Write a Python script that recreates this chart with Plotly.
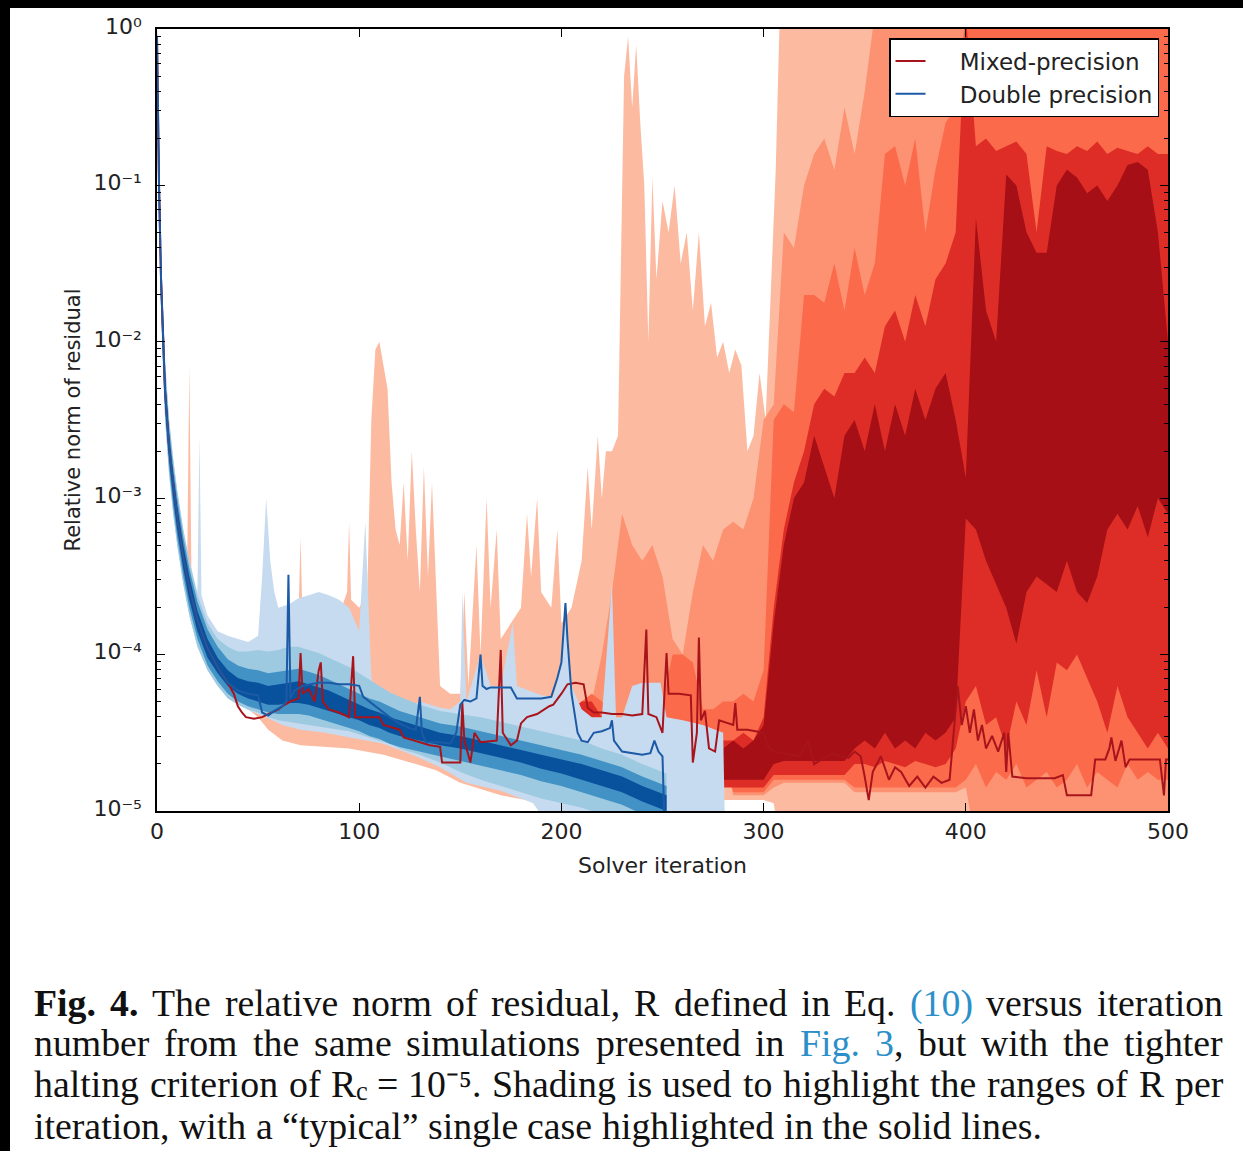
import plotly.graph_objects as go

# ---------------- data: log10 of relative residual norm ----------------
# Double precision shading (nested ranges), common iteration grid
BX = [0, 1, 2, 3, 4, 6, 8, 10, 13, 16, 20, 25, 30, 35, 40, 45, 50, 55, 60, 65, 70, 75, 80, 85, 90, 95,
      100, 105, 110, 115, 120, 130, 140, 150, 160, 170, 180, 190, 200, 210, 220, 230, 240, 252]
B4_HI = [-0.02, -0.9, -1.5, -1.9, -2.25, -2.6, -2.85, -3.05, -3.3, -3.5,
         -3.72, -3.9, -4.02, -4.1, -4.15, -4.17, -4.18, -4.2, -4.19, -4.18,
         -4.17, -4.19, -4.21, -4.23, -4.26, -4.29, -4.32, -4.35, -4.37, -4.4,
         -4.42, -4.46, -4.5, -4.52, -4.55, -4.58, -4.61, -4.64, -4.67, -4.7,
         -4.74, -4.78, -4.84, -4.9]
B4_LO = [-0.3, -1.1, -1.7, -2.1, -2.4, -2.75, -3.0, -3.2, -3.45, -3.65,
         -3.85, -4.02, -4.12, -4.2, -4.25, -4.28, -4.3, -4.32, -4.32, -4.31,
         -4.31, -4.32, -4.34, -4.36, -4.38, -4.4, -4.42, -4.45, -4.47, -4.5,
         -4.52, -4.55, -4.58, -4.6, -4.63, -4.66, -4.69, -4.73, -4.76, -4.8,
         -4.84, -4.88, -4.94, -5.0]
B3_HI = [0.0, -0.85, -1.45, -1.85, -2.2, -2.55, -2.8, -3.0, -3.25, -3.45,
         -3.66, -3.84, -3.95, -4.03, -4.07, -4.09, -4.1, -4.12, -4.11, -4.1,
         -4.09, -4.11, -4.13, -4.16, -4.19, -4.22, -4.25, -4.28, -4.3, -4.33,
         -4.36, -4.4, -4.44, -4.46, -4.49, -4.52, -4.55, -4.58, -4.61, -4.64,
         -4.68, -4.72, -4.78, -4.84]
B3_LO = [-0.35, -1.15, -1.75, -2.15, -2.45, -2.8, -3.05, -3.25, -3.5, -3.7,
         -3.9, -4.07, -4.17, -4.25, -4.3, -4.33, -4.35, -4.37, -4.38, -4.38,
         -4.38, -4.39, -4.41, -4.43, -4.45, -4.47, -4.49, -4.52, -4.54, -4.57,
         -4.59, -4.62, -4.65, -4.68, -4.71, -4.74, -4.77, -4.81, -4.84, -4.88,
         -4.92, -4.96, -5.02, -5.1]
B2_HI = [0.0, -0.8, -1.4, -1.8, -2.15, -2.5, -2.75, -2.95, -3.2, -3.4,
         -3.62, -3.8, -3.9, -3.95, -3.98, -3.98, -3.97, -3.98, -3.97, -3.95,
         -3.95, -3.97, -3.99, -4.02, -4.05, -4.08, -4.12, -4.16, -4.2, -4.24,
         -4.27, -4.32, -4.36, -4.38, -4.4, -4.43, -4.46, -4.49, -4.52, -4.55,
         -4.6, -4.64, -4.7, -4.76]
B2_LO = [-0.4, -1.2, -1.8, -2.2, -2.5, -2.85, -3.1, -3.3, -3.55, -3.75,
         -3.95, -4.1, -4.2, -4.28, -4.32, -4.35, -4.37, -4.4, -4.42, -4.43,
         -4.44, -4.45, -4.46, -4.47, -4.48, -4.49, -4.51, -4.53, -4.55, -4.57,
         -4.6, -4.64, -4.69, -4.75, -4.8, -4.84, -4.88, -4.92, -4.95, -4.98,
         -5.02, -5.05, -5.1, -5.1]
B1_HI_X = [0, 1, 2, 3, 4, 6, 8, 10, 13, 16, 20, 21, 22, 25, 30, 35, 40, 45, 50, 52,
           54, 56, 58, 60, 65, 70, 75, 80, 85, 90, 95, 100, 103, 106, 110, 115, 120, 130, 140, 145,
           150, 151, 153, 160, 165, 170, 176, 178, 190, 196, 200, 202, 205, 210, 215, 220, 225, 227, 230, 235,
           240, 249, 252, 260, 270, 280, 281]
B1_HI = [0.0, -0.8, -1.4, -1.8, -2.1, -2.5, -2.75, -2.95, -3.2, -3.4, -3.6, -2.6, -3.62, -3.75, -3.85, -3.88, -3.9, -3.92, -3.88, -3.5,
         -3.0, -3.4, -3.6, -3.7, -3.68, -3.64, -3.62, -3.6, -3.62, -3.65, -3.7, -3.85, -3.15, -4.15, -4.28, -4.33, -4.36, -4.3, -4.34, -4.35,
         -4.3, -3.6, -4.3, -4.0, -4.2, -4.2, -3.8, -4.2, -4.26, -4.27, -4.05, -3.65, -4.2, -4.35, -4.4, -4.4, -3.55, -4.4, -4.4, -4.2,
         -4.18, -4.18, -4.4, -4.42, -4.45, -4.5, -5.2]
B1_LO_X = [0, 1, 2, 3, 4, 6, 8, 10, 13, 16, 20, 25, 30, 35, 40, 46, 54, 62, 71, 83,
           95, 112, 128, 140, 153, 170, 186, 194, 281]
B1_LO = [-0.35, -1.2, -1.8, -2.2, -2.5, -2.85, -3.1, -3.3, -3.55, -3.75, -3.95, -4.1, -4.2, -4.27, -4.32, -4.36, -4.4, -4.45, -4.48, -4.5,
         -4.53, -4.57, -4.65, -4.72, -4.82, -4.87, -4.95, -5.1, -5.1]

# Mixed precision shading
R1_HI_X = [0, 1, 2, 3, 4, 6, 8, 10, 13, 15, 16, 17, 20, 25, 30, 35, 40, 45, 50, 55,
           60, 65, 70, 71, 72, 80, 90, 94, 95, 96, 100, 104, 106, 108, 110, 112, 114, 116, 118, 120,
           122, 124, 126, 128, 130, 132, 134, 136, 138, 140, 145, 150, 152, 154, 158, 160, 163, 165, 168, 170,
           175, 180, 183, 185, 188, 190, 195, 198, 200, 205, 210, 213, 215, 218, 220, 222, 225, 228, 231, 233,
           235, 237, 239, 241, 243, 245, 247, 250, 253, 256, 259, 262, 265, 268, 271, 274, 277, 280, 283, 286,
           289, 292, 295, 298, 301, 304, 306, 308, 500]
R1_HI = [0.0, -0.85, -1.45, -1.85, -2.2, -2.55, -2.8, -3.0, -3.25, -3.35, -2.15, -3.45, -3.65, -3.85, -3.95, -4.0, -4.0, -4.0, -3.95, -3.9,
         -3.85, -3.8, -3.75, -3.25, -3.8, -3.8, -3.75, -3.6, -3.15, -3.65, -3.7, -3.6, -2.5, -2.05, -2.0, -2.15, -2.3, -2.9, -3.2, -3.3,
         -2.9, -3.4, -2.7, -3.2, -3.6, -2.8, -3.5, -2.9, -3.6, -4.2, -4.25, -4.25, -3.6, -4.2, -3.3, -4.0, -3.0, -3.7, -3.2, -3.9,
         -3.8, -3.7, -3.1, -3.5, -3.0, -3.6, -3.7, -3.2, -3.8, -3.7, -3.4, -2.8, -3.2, -2.6, -3.0, -2.7, -2.7, -2.6, -0.3, -0.05,
         -0.5, -0.1, -0.6, -1.0, -2.0, -0.95, -1.6, -1.1, -1.3, -1.0, -1.5, -1.3, -1.8, -1.3, -1.9, -1.75, -2.1, -2.0, -2.2, -2.05,
         -2.15, -2.7, -2.6, -2.2, -2.5, -1.5, -0.9, 0.1, 0.1]
R1_LO_X = [0, 1, 2, 3, 4, 6, 8, 10, 13, 16, 20, 25, 30, 35, 40, 45, 50, 55, 62, 71,
           83, 95, 112, 128, 138, 150, 170, 200, 230, 280, 300, 305, 308, 500]
R1_LO = [-0.3, -1.15, -1.75, -2.15, -2.45, -2.8, -3.05, -3.25, -3.5, -3.7, -3.9, -4.05, -4.15, -4.25, -4.3, -4.35, -4.4, -4.48, -4.55, -4.58,
         -4.59, -4.6, -4.64, -4.7, -4.74, -4.82, -4.9, -4.97, -4.97, -4.93, -4.93, -4.95, -5.2, -5.2]

RX = [200, 205, 210, 215, 220, 225, 230, 235, 240, 245, 250, 255, 260, 265, 270, 275, 280, 285, 290, 295,
      300, 305, 310, 315, 320, 325, 330, 335, 340, 345, 350, 355, 360, 365, 370, 375, 380, 385, 390, 395,
      400, 405, 410, 415, 420, 425, 430, 435, 440, 445, 450, 455, 460, 465, 470, 475, 480, 485, 490, 495, 500]
R2_HI = [-4.5, -4.5, -4.45, -4.3, -4.0, -3.6, -3.1, -3.3, -3.4, -3.3,
         -3.5, -3.9, -4.0, -3.6, -3.3, -3.4, -3.2, -3.15, -3.2, -3.0,
         -2.5, -2.4, -1.3, -1.4, -1.0, -0.8, -0.7, -0.9, -0.5, -0.8,
         -0.4, 0.1, 0.1, 0.1, 0.1, 0.1, 0.1, 0.1, 0.1, 0.1,
         0.1, 0.1, 0.1, 0.1, 0.1, 0.1, 0.1, 0.1, 0.1, 0.1,
         0.1, 0.1, 0.1, 0.1, 0.1, 0.1, 0.1, 0.1, 0.1, 0.1, 0.1]
R2_LO = [-4.6, -4.6, -4.6, -4.6, -4.6, -4.6, -4.6, -4.6, -4.6, -4.6,
         -4.6, -4.6, -4.6, -4.6, -4.6, -4.6, -4.6, -4.9, -4.9, -4.9,
         -4.9, -4.85, -4.82, -4.82, -4.82, -4.82, -4.82, -4.82, -4.82, -4.88,
         -4.88, -4.88, -4.88, -4.88, -4.88, -4.88, -4.88, -4.88, -4.88, -4.88,
         -4.85, -5.2, -5.2, -5.2, -5.2, -5.2, -5.2, -5.2, -5.2, -5.2,
         -5.2, -5.2, -5.2, -5.2, -5.2, -5.2, -5.2, -5.2, -5.2, -5.2, -5.2]
R3_HI = [-4.55, -4.4, -4.3, -4.25, -4.3, -4.4, -4.45, -4.4, -4.35, -4.35,
         -4.3, -4.0, -4.0, -4.05, -4.35, -4.35, -4.3, -4.3, -4.25, -4.3,
         -4.1, -2.5, -2.4, -2.45, -1.7, -1.7, -1.75, -1.5, -1.8, -1.4,
         -1.7, -1.5, -0.8, -0.75, -1.0, -0.7, -1.3, -0.9, -0.6, -0.5,
         0.1, 0.1, 0.1, 0.1, 0.1, 0.1, 0.1, 0.1, 0.1, 0.1,
         0.1, 0.1, 0.1, 0.1, 0.1, 0.1, 0.1, 0.1, 0.1, 0.1, 0.1]
R3_LO = [-4.65, -4.65, -4.65, -4.65, -4.65, -4.65, -4.65, -4.65, -4.65, -4.65,
         -4.65, -4.65, -4.65, -4.65, -4.65, -4.65, -4.65, -4.88, -4.88, -4.88,
         -4.88, -4.8, -4.8, -4.8, -4.8, -4.8, -4.8, -4.8, -4.8, -4.85,
         -4.85, -4.85, -4.85, -4.85, -4.85, -4.85, -4.85, -4.85, -4.85, -4.85,
         -4.8, -4.7, -4.85, -4.75, -4.8, -4.7, -4.85, -4.8, -4.75, -4.85,
         -4.8, -4.7, -4.85, -4.75, -4.8, -4.85, -4.7, -4.8, -4.75, -4.8, -4.8]
R4_HI = [-4.6, -4.35, -4.3, -4.3, -4.4, -4.5, -4.6, -4.6, -4.6, -4.6,
         -4.6, -4.6, -4.6, -4.6, -4.6, -4.6, -4.55, -4.55, -4.5, -4.55,
         -4.4, -3.7, -3.2, -2.9, -2.7, -2.4, -2.3, -2.35, -2.2, -2.2,
         -2.1, -2.2, -1.9, -1.8, -2.0, -1.7, -1.9, -1.6, -1.5, -1.3,
         0.1, -0.75, -0.7, -0.78, -0.75, -0.72, -0.8, -1.3, -0.75, -0.78,
         -0.8, -0.75, -0.78, -0.72, -0.8, -0.76, -0.78, -0.8, -0.75, -0.8, -0.8]
R4_LO = [-4.7, -4.7, -4.7, -4.7, -4.7, -4.7, -4.7, -4.7, -4.7, -4.7,
         -4.7, -4.7, -4.7, -4.7, -4.7, -4.7, -4.85, -4.85, -4.85, -4.85,
         -4.85, -4.77, -4.77, -4.77, -4.77, -4.77, -4.77, -4.77, -4.77, -4.7,
         -4.7, -4.72, -4.68, -4.7, -4.72, -4.68, -4.7, -4.72, -4.7, -4.6,
         -4.3, -4.2, -4.45, -4.4, -4.6, -4.3, -4.45, -4.1, -4.4, -4.05,
         -4.1, -4.0, -4.15, -4.3, -4.5, -4.2, -4.4, -4.5, -4.6, -4.5, -4.6]
R5X = [280, 285, 290, 295, 300, 305, 310, 315, 320, 325, 330, 335, 340, 345, 350, 355, 360, 365, 370, 375,
       380, 385, 390, 395, 400, 405, 410, 415, 420, 425, 430, 435, 440, 445, 450, 455, 460, 465, 470, 475,
       480, 485, 490, 495, 500]
R5_HI = [-4.6, -4.55, -4.6, -4.55, -4.45, -3.8, -3.3, -3.0, -2.9, -2.6,
         -2.8, -3.0, -2.6, -2.5, -2.7, -2.4, -2.7, -2.4, -2.6, -2.3,
         -2.5, -2.3, -2.2, -2.5, -2.87, -1.21, -1.8, -2.0, -0.93, -1.0,
         -1.3, -1.43, -1.43, -1.0, -0.9, -0.95, -1.05, -1.0, -1.1, -1.0,
         -0.87, -0.85, -0.9, -1.3, -2.0]
R5_LO = [-4.8, -4.8, -4.8, -4.8, -4.8, -4.7, -4.68, -4.68, -4.68, -4.68,
         -4.68, -4.68, -4.68, -4.6, -4.55, -4.6, -4.5, -4.6, -4.55, -4.6,
         -4.5, -4.55, -4.5, -4.4, -3.13, -3.2, -3.4, -3.55, -3.7, -3.93,
         -3.6, -3.5, -3.55, -3.6, -3.4, -3.6, -3.67, -3.5, -3.2, -3.1,
         -3.2, -3.05, -3.25, -3.0, -3.1]

# "Typical" single cases
DL_X = [0, 0.5, 1, 2, 3, 4, 6, 8, 10, 13, 16, 20, 25, 30, 35, 40, 45, 50, 52, 55,
        58, 62, 64, 65, 66, 68, 72, 76, 80, 85, 90, 95, 100, 102, 105, 110, 115, 120, 125, 128,
        130, 131, 133, 140, 145, 148, 150, 152, 155, 158, 160, 161, 163, 165, 170, 175, 178, 185, 190, 195,
        198, 200, 202, 203, 205, 208, 210, 213, 216, 220, 224, 225, 226, 230, 235, 240, 244, 246, 248, 250, 251]
DL_Y = [-0.05, -0.6, -1.0, -1.6, -2.0, -2.32, -2.68, -2.92, -3.12, -3.38, -3.57, -3.78, -3.96, -4.08, -4.18, -4.23, -4.25, -4.26, -4.37, -4.39,
        -4.36, -4.33, -4.3, -3.49, -4.28, -4.23, -4.2, -4.19, -4.18, -4.18, -4.19, -4.19, -4.2, -4.27, -4.3, -4.35, -4.4, -4.44, -4.47, -4.48,
        -4.27, -4.5, -4.56, -4.56, -4.57, -4.5, -4.32, -4.29, -4.3, -4.28, -4.0, -4.2, -4.22, -4.21, -4.21, -4.21, -4.28, -4.28, -4.28, -4.27,
        -4.15, -4.05, -3.67, -3.9, -4.25, -4.5, -4.55, -4.56, -4.5, -4.49, -4.47, -4.42, -4.55, -4.62, -4.63, -4.64, -4.63, -4.55, -4.62, -4.65, -5.1]
ML_X = [0, 0.5, 1, 2, 3, 4, 6, 8, 10, 13, 16, 20, 25, 30, 35, 38, 40, 42, 44, 48,
        52, 55, 60, 62, 66, 70, 71, 72, 75, 78, 80, 81, 82, 85, 90, 95, 97, 98, 105, 110,
        112, 115, 120, 122, 130, 135, 140, 141, 150, 151, 152, 155, 157, 160, 168, 170, 171, 175, 178, 180,
        183, 188, 194, 196, 200, 203, 207, 211, 213, 216, 220, 225, 230, 235, 240, 242, 243, 247, 250, 252,
        253, 258, 264, 265, 267, 268, 269, 271, 273, 276, 278, 282, 285, 286, 287, 292, 300, 302, 305, 310,
        315, 318, 322, 325, 330, 334, 338, 342, 345, 348, 350, 352, 354, 358, 362, 365, 368, 372, 376, 380,
        384, 388, 392, 396, 398, 400, 402, 404, 406, 408, 410, 413, 416, 419, 420, 421, 423, 430, 440, 444,
        448, 450, 462, 464, 469, 471, 472, 474, 477, 479, 481, 490, 496, 498, 499, 500]
ML_Y = [-0.05, -0.6, -1.0, -1.6, -2.0, -2.32, -2.68, -2.92, -3.12, -3.38, -3.57, -3.78, -3.96, -4.08, -4.18, -4.25, -4.33, -4.37, -4.4, -4.41,
        -4.4, -4.38, -4.35, -4.33, -4.3, -4.28, -3.99, -4.25, -4.22, -4.3, -4.1, -4.05, -4.3, -4.35, -4.37, -4.4, -4.01, -4.4, -4.4, -4.4,
        -4.45, -4.46, -4.48, -4.53, -4.56, -4.58, -4.59, -4.69, -4.69, -4.31, -4.55, -4.69, -4.5, -4.56, -4.55, -3.97, -4.5, -4.58, -4.55, -4.44,
        -4.4, -4.38, -4.33, -4.32, -4.25, -4.19, -4.18, -4.19, -4.34, -4.37, -4.37, -4.38, -4.38, -4.39, -4.38, -3.84, -4.38, -4.4, -4.5, -3.99,
        -4.25, -4.25, -4.26, -4.69, -4.5, -3.89, -4.42, -4.36, -4.6, -4.62, -4.42, -4.44, -4.45, -4.31, -4.48, -4.48, -4.5, -4.58, -4.62, -4.63,
        -4.64, -4.65, -4.55, -4.7, -4.66, -4.63, -4.65, -4.66, -4.62, -4.65, -4.78, -4.93, -4.75, -4.65, -4.8, -4.72, -4.75, -4.84, -4.78, -4.85,
        -4.78, -4.82, -4.8, -4.2, -4.45, -4.33, -4.5, -4.35, -4.55, -4.45, -4.6, -4.52, -4.62, -4.5, -4.75, -4.5, -4.78, -4.79, -4.79, -4.79,
        -4.77, -4.9, -4.9, -4.67, -4.67, -4.6, -4.53, -4.68, -4.55, -4.72, -4.67, -4.67, -4.67, -4.9, -4.67, -4.67]

Y_TICKS = [1e-5, 1e-4, 1e-3, 1e-2, 1e-1, 1]
Y_TICK_TEXT = ["10⁻⁵", "10⁻⁴", "10⁻³", "10⁻²", "10⁻¹", "10⁰"]
X_TICKS = [0, 100, 200, 300, 400, 500]

# ---------------- styling ----------------
W, H = 1243, 1151
PL, PR, PT, PB = 157, 1168, 29, 811   # plot area in pixels
REDS = ["#fcbba1", "#fc9272", "#fb6a4a", "#de2d26", "#a50f15"]
BLUES = ["#c6dbef", "#9ecae1", "#4292c6", "#08519c"]
LINK = "#2c8fc9"
SANS = "DejaVu Sans"
SERIF = "Liberation Serif"
NB = "\u00a0\u00a0\u00a0\u00a0"


def pxx(px):
    return (px - PL) / (PR - PL)


def pxy(py):
    return (PB - py) / (PB - PT)


def band(xh, yh, xl, yl, color):
    xs = list(xh) + list(xl)[::-1]
    ys = [10 ** v for v in yh] + [10 ** v for v in yl][::-1]
    return go.Scatter(x=xs, y=ys, mode="lines", fill="toself", fillcolor=color,
                      line=dict(width=0), hoverinfo="skip", showlegend=False)


fig = go.Figure()
fig.add_trace(band(R1_HI_X, R1_HI, R1_LO_X, R1_LO, REDS[0]))
fig.add_trace(band(RX, R2_HI, RX, R2_LO, REDS[1]))
fig.add_trace(band(RX, R3_HI, RX, R3_LO, REDS[2]))
fig.add_trace(band(RX, R4_HI, RX, R4_LO, REDS[3]))
fig.add_trace(band(R5X, R5_HI, R5X, R5_LO, REDS[4]))
fig.add_trace(band(B1_HI_X, B1_HI, B1_LO_X, B1_LO, BLUES[0]))
fig.add_trace(band(BX, B2_HI, BX, B2_LO, BLUES[1]))
fig.add_trace(band(BX, B3_HI, BX, B3_LO, BLUES[2]))
fig.add_trace(band(BX, B4_HI, BX, B4_LO, BLUES[3]))
fig.add_trace(go.Scatter(x=ML_X, y=[10 ** v for v in ML_Y], mode="lines", name=NB + "Mixed-precision",
                         line=dict(color="#a8141c", width=2), hoverinfo="skip"))
fig.add_trace(go.Scatter(x=DL_X, y=[10 ** v for v in DL_Y], mode="lines", name=NB + "Double precision",
                         line=dict(color="#1c5aa6", width=2), hoverinfo="skip"))

minor_y = [m * 10.0 ** e for e in range(-5, 0) for m in range(2, 10)]

fig.update_layout(
    width=W, height=H,
    margin=dict(l=PL, r=W - PR, t=PT, b=H - PB, pad=0),
    paper_bgcolor="white", plot_bgcolor="white",
    font=dict(family=SANS, size=21, color="#222"),
    legend=dict(x=pxx(889), y=pxy(38), xanchor="left", yanchor="top",
                bgcolor="white", bordercolor="black", borderwidth=1.5,
                font=dict(family=SANS, size=23, color="#222"), itemwidth=30,
                traceorder="normal"),
    xaxis=dict(range=[0, 500], tickvals=X_TICKS, showgrid=False, zeroline=False,
               showline=True, linecolor="black", linewidth=1.5, mirror="allticks",
               ticks="inside", ticklen=8, tickwidth=1, tickcolor="black",
               tickfont=dict(family=SANS, size=22, color="#222"),
               title=dict(text="Solver iteration", font=dict(family=SANS, size=22, color="#222"), standoff=14)),
    yaxis=dict(type="log", range=[-5, 0], tickvals=Y_TICKS, ticktext=Y_TICK_TEXT,
               showgrid=False, zeroline=False, showline=True, linecolor="black", linewidth=1.5,
               mirror="allticks", ticks="inside", ticklen=8, tickwidth=1, tickcolor="black",
               ticklabelstandoff=9, ticklabelshift=-3,
               minor=dict(tickmode="array", tickvals=minor_y, ticks="inside", ticklen=4,
                          tickcolor="black", showgrid=False),
               tickfont=dict(family=SANS, size=22, color="#222"),
               title=dict(text="Relative norm of residual", font=dict(family=SANS, size=21, color="#222"), standoff=7)),
)

# black frame strips of the scanned figure
fig.add_shape(type="rect", xref="paper", yref="paper", x0=pxx(0), x1=pxx(10), y0=pxy(H), y1=pxy(0),
              fillcolor="black", line=dict(width=0), layer="above")
fig.add_shape(type="rect", xref="paper", yref="paper", x0=pxx(0), x1=pxx(W), y0=pxy(8), y1=pxy(0),
              fillcolor="black", line=dict(width=0), layer="above")

# ---------------- caption (justified, like the printed original) ----------------
CAP_SIZE = 37.8
CAP_LEFT, CAP_RIGHT = 33, 1222
# Times-compatible advance widths (1/1000 em) used to justify the lines
_TW = dict(zip("abcdefghijklmnopqrstuvwxyz",
               [444, 500, 444, 500, 444, 333, 500, 500, 278, 278, 500, 278, 778, 500, 500, 500, 500, 333, 389, 278,
                500, 500, 722, 500, 500, 444]))
_TW.update({"F": 556, "T": 611, "R": 667, "E": 611, "S": 556, ".": 250, ",": 250, "(": 333, ")": 333,
            "“": 444, "”": 444, "−": 564, "=": 564, "-": 333, " ": 250, "⁻": 380, "⁵": 300})
_TW.update({d: 500 for d in "0123456789"})
_TB = {"F": 611, "i": 278, "g": 500, ".": 250, "4": 500}


def part_width(txt, scale, bold):
    tab = _TB if bold else _TW
    return sum(tab.get(ch, _TW.get(ch, 500)) for ch in txt) * scale * CAP_SIZE / 1000.0


def wd(t, html=None, bold=False):
    # one word = list of parts: (html or None, text for width, scale, bold, vertical offset px)
    return [(html if html is not None else t, t, 1, bold, 0)]


def lk(t):
    return '<span style="color:%s">%s</span>' % (LINK, t)


MATH = [("R", "R", 1, False, 0), ("c", "c", 0.7, False, 6.5), (None, " ", 1, False, 0), ("=", "=", 1, False, 0),
        (None, " ", 1, False, 0), ("10⁻⁵.", "10⁻⁵.", 1, False, 0)]

CAPTION = [
    (1003, True, [wd("Fig.", "<b>Fig.</b>", True), wd("4.", "<b>4.</b>", True), wd("The"), wd("relative"),
                  wd("norm"), wd("of"), wd("residual,"), wd("R"), wd("defined"), wd("in"), wd("Eq."),
                  wd("(10)", lk("(10)")), wd("versus"), wd("iteration")]),
    (1043, True, [wd("number"), wd("from"), wd("the"), wd("same"), wd("simulations"), wd("presented"), wd("in"),
                  wd("Fig.", lk("Fig.")), wd("3,", lk("3") + ","), wd("but"), wd("with"), wd("the"),
                  wd("tighter")]),
    (1084, True, [wd("halting"), wd("criterion"), wd("of"), MATH, wd("Shading"), wd("is"), wd("used"), wd("to"),
                  wd("highlight"), wd("the"), wd("ranges"), wd("of"), wd("R"), wd("per")]),
    (1126, False, [wd("iteration,"), wd("with"), wd("a"), wd("“typical”"), wd("single"), wd("case"),
                   wd("highlighted"), wd("in"), wd("the"), wd("solid"), wd("lines.")]),
]
for py, justify, words in CAPTION:
    widths = [sum(part_width(p[1], p[2], p[3]) for p in parts) for parts in words]
    if justify:
        gap = (CAP_RIGHT - CAP_LEFT - sum(widths)) / (len(words) - 1)
    else:
        gap = 250 * CAP_SIZE / 1000.0
    x = CAP_LEFT
    for parts, w in zip(words, widths):
        px = x
        for html, txt, scale, bold, dy in parts:
            if html is not None:
                fig.add_annotation(x=pxx(px), y=pxy(py + dy), xref="paper", yref="paper", text=html,
                                   showarrow=False, xanchor="left", yanchor="middle", borderpad=0,
                                   font=dict(family=SERIF, size=CAP_SIZE * scale, color="#111"))
            px += part_width(txt, scale, bold)
        x += w + gap

fig.write_html("out.html", config={"displayModeBar": False},
               post_script="document.body.style.margin='0px';")
